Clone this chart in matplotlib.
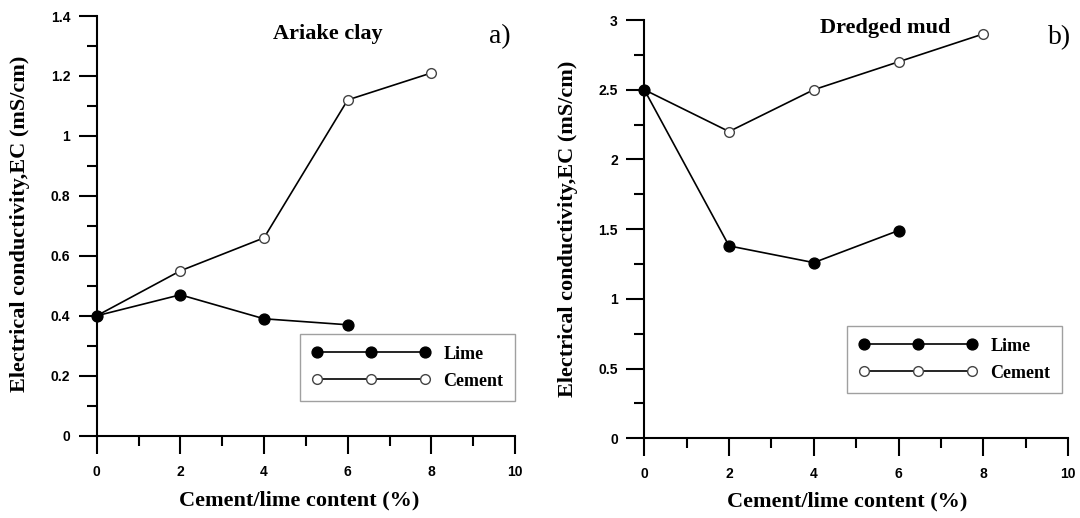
import matplotlib
matplotlib.use("Agg")
import matplotlib.pyplot as plt
from matplotlib.ticker import MultipleLocator, FixedLocator

# ---------------- data ----------------
x_lime = [0, 2, 4, 6]
x_cement = [0, 2, 4, 6, 8]

ariake_lime = [0.40, 0.47, 0.39, 0.37]
ariake_cement = [0.40, 0.55, 0.66, 1.12, 1.21]

dredged_lime = [2.50, 1.38, 1.26, 1.49]
dredged_cement = [2.50, 2.20, 2.50, 2.70, 2.90]

x_ticks = [0, 2, 4, 6, 8, 10]
x_ticklabels = ["0", "2", "4", "6", "8", "10"]
ariake_yticks = [0, 0.2, 0.4, 0.6, 0.8, 1.0, 1.2, 1.4]
ariake_yticklabels = ["0", "0.2", "0.4", "0.6", "0.8", "1", "1.2", "1.4"]
dredged_yticks = [0, 0.5, 1.0, 1.5, 2.0, 2.5, 3.0]
dredged_yticklabels = ["0", "0.5", "1", "1.5", "2", "2.5", "3"]

series_names = ["Lime", "Cement"]
xlabel = "Cement/lime content (%)"
ylabel = "Electrical conductivity,EC (mS/cm)"

# ---------------- figure ----------------
W, H = 1080, 518
fig = plt.figure(figsize=(W / 100, H / 100), dpi=100)

serif = "Liberation Serif"
sans = "Liberation Sans"


def px_axes(x0, x1, ytop, ybot):
    return fig.add_axes([x0 / W, 1 - ybot / H, (x1 - x0) / W, (ybot - ytop) / H])


def style_axes(ax, ymax, yticks, yticklabels, yminor):
    ax.set_xlim(0, 10)
    ax.set_ylim(0, ymax)
    for s in ["top", "right"]:
        ax.spines[s].set_visible(False)
    for s in ["left", "bottom"]:
        ax.spines[s].set_linewidth(1.5)
    ax.xaxis.set_major_locator(FixedLocator(x_ticks))
    ax.set_xticklabels(x_ticklabels)
    ax.xaxis.set_minor_locator(MultipleLocator(1))
    ax.yaxis.set_major_locator(FixedLocator(yticks))
    ax.set_yticklabels(yticklabels)
    ax.yaxis.set_minor_locator(MultipleLocator(yminor))
    ax.tick_params(which="major", direction="out", length=13, width=1.5)
    ax.tick_params(which="minor", direction="out", length=7, width=1.5)
    ax.tick_params(axis="x", which="major", pad=8)
    ax.tick_params(axis="y", which="major", pad=6)
    for lab in ax.get_xticklabels() + ax.get_yticklabels():
        lab.set_fontfamily(sans)
        lab.set_fontweight("bold")
        lab.set_fontsize(10)


def plot_series(ax, lime, cement):
    ax.plot(x_cement, cement, color="black", lw=1.2, marker="o", ms=7,
            mfc="white", mec="#444444", mew=1.0, label=series_names[1],
            clip_on=False, zorder=3)
    ax.plot(x_lime, lime, color="black", lw=1.2, marker="o", ms=7.8,
            mfc="black", mec="black", label=series_names[0],
            clip_on=False, zorder=4)


def add_legend(ax, left_px, top_px):
    h, l = ax.get_legend_handles_labels()
    order = [1, 0]
    leg = ax.legend([h[i] for i in order], [l[i] for i in order],
                    loc="upper left", bbox_to_anchor=(left_px / W, 1 - top_px / H),
                    bbox_transform=fig.transFigure, borderaxespad=0,
                    numpoints=3, handlelength=6.6, handletextpad=0.7,
                    borderpad=0.65, labelspacing=0.55, fancybox=False,
                    framealpha=1, edgecolor="#a0a0a0",
                    prop={"family": serif, "weight": "bold", "size": 13})
    leg.get_frame().set_linewidth(1.0)
    return leg


# ---- panel a ----
axa = px_axes(96.7, 515, 16, 435.7)
plot_series(axa, ariake_lime, ariake_cement)
style_axes(axa, 1.4, ariake_yticks, ariake_yticklabels, 0.1)
axa.set_ylabel(ylabel, fontfamily=serif, fontweight="bold", fontsize=16, va="center")
axa.yaxis.set_label_coords(-0.183, 0.504)
axa.set_xlabel(xlabel, fontfamily=serif, fontweight="bold", fontsize=16, va="center")
axa.xaxis.set_label_coords(0.485, -0.155)
axa.text(0.553, 0.958, "Ariake clay", transform=axa.transAxes, ha="center",
         va="center", fontfamily=serif, fontweight="bold", fontsize=16)
axa.text(0.964, 0.951, "a)", transform=axa.transAxes, ha="center",
         va="center", fontfamily=serif, fontsize=20)
add_legend(axa, 300, 334)

# ---- panel b ----
axb = px_axes(644.3, 1068, 20, 438.3)
plot_series(axb, dredged_lime, dredged_cement)
style_axes(axb, 3.0, dredged_yticks, dredged_yticklabels, 0.25)
axb.set_ylabel(ylabel, fontfamily=serif, fontweight="bold", fontsize=16, va="center")
axb.yaxis.set_label_coords(-0.179, 0.5)
axb.set_xlabel(xlabel, fontfamily=serif, fontweight="bold", fontsize=16, va="center")
axb.xaxis.set_label_coords(0.478, -0.15)
axb.text(0.569, 0.98, "Dredged mud", transform=axb.transAxes, ha="center",
         va="center", fontfamily=serif, fontweight="bold", fontsize=16)
axb.text(0.981, 0.957, "b)", transform=axb.transAxes, ha="center",
         va="center", fontfamily=serif, fontsize=20)
add_legend(axb, 847, 326)

fig.savefig("out.png", dpi=100)
